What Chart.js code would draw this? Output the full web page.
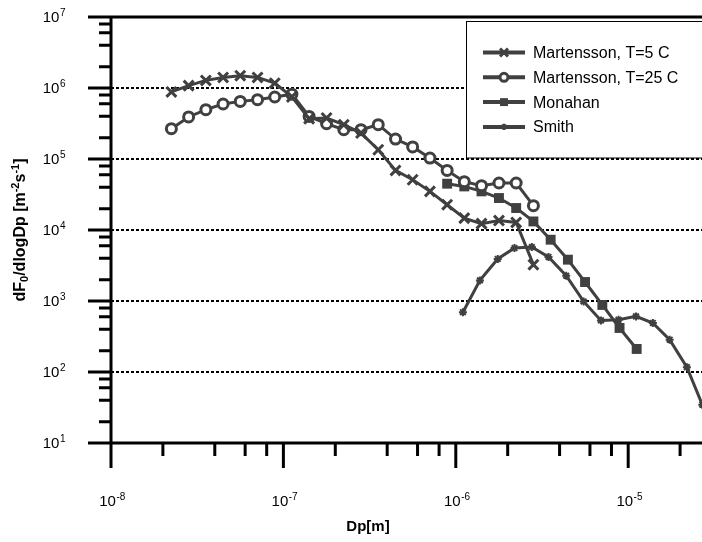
<!DOCTYPE html>
<html>
<head>
<meta charset="utf-8">
<script src="https://cdn.jsdelivr.net/npm/chart.js@4.4.0/dist/chart.umd.min.js"></script>
<style>
    html, body { margin: 0; padding: 0; background: #fff; }
</style>
</head>
<body>
<canvas id="grafico" width="702" height="542"></canvas>
<script>
// Dp [m] for both Martensson series
const dpMartensson = [2.24e-8, 2.82e-8, 3.55e-8, 4.47e-8, 5.62e-8, 7.08e-8, 8.91e-8, 1.12e-7, 1.41e-7, 1.78e-7, 2.24e-7,
                      2.82e-7, 3.55e-7, 4.47e-7, 5.62e-7, 7.08e-7, 8.91e-7, 1.12e-6, 1.41e-6, 1.78e-6, 2.24e-6, 2.82e-6];
const fluxT5 = [8.8e5, 1.08e6, 1.28e6, 1.41e6, 1.49e6, 1.41e6, 1.17e6, 7.5e5, 3.7e5, 3.78e5, 3.04e5,
                2.32e5, 1.35e5, 6.9e4, 5.1e4, 3.5e4, 2.27e4, 1.47e4, 1.23e4, 1.36e4, 1.28e4, 3.25e3];
const fluxT25 = [2.67e5, 3.91e5, 4.95e5, 5.95e5, 6.48e5, 6.84e5, 7.47e5, 8.18e5, 3.98e5, 3.14e5, 2.59e5,
                 2.59e5, 3.04e5, 1.91e5, 1.48e5, 1.03e5, 6.9e4, 4.79e4, 4.21e4, 4.59e4, 4.59e4, 2.2e4];
const dpMonahan = [8.91e-7, 1.12e-6, 1.41e-6, 1.78e-6, 2.24e-6, 2.82e-6, 3.55e-6, 4.47e-6, 5.62e-6, 7.08e-6, 8.91e-6, 1.12e-5];
const fluxMonahan = [4.49e4, 4.11e4, 3.5e4, 2.82e4, 2.04e4, 1.32e4, 7.3e3, 3.82e3, 1.85e3, 8.8e2, 4.17e2, 2.11e2];
const dpSmith = [1.10e-6, 1.38e-6, 1.75e-6, 2.19e-6, 2.76e-6, 3.45e-6, 4.37e-6, 5.51e-6, 6.95e-6, 8.79e-6,
                 1.11e-5, 1.39e-5, 1.74e-5, 2.19e-5, 2.69e-5];
const fluxSmith = [6.95e2, 1.95e3, 3.91e3, 5.57e3, 5.76e3, 4.17e3, 2.27e3, 9.86e2, 5.33e2, 5.45e2,
                   6.07e2, 4.9e2, 2.85e2, 1.17e2, 3.46e1];

// ticks: decades get a label, minor ticks at 2,4,6,8
const xExponents = [-8, -7, -6, -5];
const yExponents = [1, 2, 3, 4, 5, 6, 7];
const gridExponents = [2, 3, 4, 5, 6];
const minorSteps = [2, 4, 6, 8];

const LINE = '#404040';
const FONT = '"Liberation Sans", Arial, sans-serif';

function serie(xs, ys) {
    return xs.map((x, i) => ({ x: x, y: ys[i] }));
}

function logTicks(exps, min, max) {
    const out = [];
    exps.forEach(e => {
        const base = Math.pow(10, e);
        out.push({ value: base, major: true });
        minorSteps.forEach(m => {
            if (m * base <= max * 1.0001) out.push({ value: m * base, major: false });
        });
    });
    return out.filter(t => t.value >= min * 0.9999 && t.value <= max * 1.0001);
}

// "10" with a raised exponent
function drawPower(ctx, exp, x, y, align) {
    ctx.font = '15px ' + FONT;
    const wb = ctx.measureText('10').width;
    ctx.font = '10px ' + FONT;
    const sup = String(exp);
    const ws = ctx.measureText(sup).width;
    const left = align === 'right' ? x - wb - ws : x - (wb + ws) / 2;
    ctx.textAlign = 'left';
    ctx.textBaseline = 'alphabetic';
    ctx.font = '15px ' + FONT;
    ctx.fillText('10', left, y);
    ctx.font = '10px ' + FONT;
    ctx.fillText(sup, left + wb + 0.5, y - 6.5);
}

function drawRich(ctx, parts, cx, cy) {
    let total = 0;
    parts.forEach(p => {
        ctx.font = 'bold ' + p.s + 'px ' + FONT;
        p.w = ctx.measureText(p.t).width;
        total += p.w;
    });
    let x = cx - total / 2;
    ctx.textAlign = 'left';
    ctx.textBaseline = 'middle';
    parts.forEach(p => {
        ctx.font = 'bold ' + p.s + 'px ' + FONT;
        ctx.fillText(p.t, x, cy + (p.dy || 0));
        x += p.w;
    });
}

const rejilla = {
    id: 'rejilla',
    beforeDatasetsDraw(chart) {
        const ctx = chart.ctx, area = chart.chartArea, y = chart.scales.y;
        ctx.save();
        ctx.strokeStyle = '#000';
        ctx.lineWidth = 2;
        ctx.setLineDash([3, 2]);
        gridExponents.forEach(e => {
            const py = Math.round(y.getPixelForValue(Math.pow(10, e)));
            ctx.beginPath();
            ctx.moveTo(area.left, py);
            ctx.lineTo(area.right, py);
            ctx.stroke();
        });
        ctx.restore();
    },
    afterDatasetsDraw(chart) {
        const ctx = chart.ctx, area = chart.chartArea;
        const xs = chart.scales.x, ys = chart.scales.y;
        const left = xs.getPixelForValue(xs.min);
        const bottom = ys.getPixelForValue(ys.min);
        const top = ys.getPixelForValue(ys.max);
        ctx.save();
        ctx.strokeStyle = '#000';
        ctx.fillStyle = '#000';
        ctx.lineWidth = 3;
        ctx.lineCap = 'butt';
        ctx.beginPath();
        ctx.moveTo(left, top); ctx.lineTo(left, bottom);
        ctx.moveTo(left, bottom); ctx.lineTo(area.right, bottom);
        ctx.moveTo(left, top); ctx.lineTo(area.right, top);
        // tick marks
        ys.ticks.forEach(t => {
            const py = ys.getPixelForValue(t.value);
            ctx.moveTo(left - (t.major ? 23 : 12), py);
            ctx.lineTo(left, py);
        });
        xs.ticks.forEach(t => {
            const px = xs.getPixelForValue(t.value);
            ctx.moveTo(px, bottom);
            ctx.lineTo(px, bottom + (t.major ? 25 : 13));
        });
        ctx.stroke();

        // tick labels
        ys.ticks.filter(t => t.major).forEach(t => {
            drawPower(ctx, Math.round(Math.log10(t.value)), 65, ys.getPixelForValue(t.value) + 5.4, 'right');
        });
        xs.ticks.filter(t => t.major).forEach(t => {
            drawPower(ctx, Math.round(Math.log10(t.value)), xs.getPixelForValue(t.value) + 1, 506, 'center');
        });

        // axis titles
        drawRich(ctx, [{ t: 'Dp[m]', s: 15 }], 368, 527);
        ctx.save();
        ctx.translate(21, (top + bottom) / 2);
        ctx.rotate(-Math.PI / 2);
        drawRich(ctx, [
            { t: 'dF', s: 16 }, { t: '0', s: 11, dy: 4 }, { t: '/dlogDp [m', s: 16 },
            { t: '-2', s: 11, dy: -5 }, { t: 's', s: 16 }, { t: '-1', s: 11, dy: -5 }, { t: ']', s: 16 }
        ], 0, 0);
        ctx.restore();

        // legend box
        ctx.fillStyle = '#fff';
        ctx.fillRect(466.5, 21.5, 250, 136.5);
        ctx.lineWidth = 1;
        ctx.strokeStyle = '#000';
        ctx.strokeRect(466.5, 21.5, 250, 136.5);
        chart.data.datasets.forEach((ds, i) => {
            const ry = 52.5 + i * 24.8;
            ctx.strokeStyle = LINE;
            ctx.lineWidth = 4;
            ctx.beginPath();
            ctx.moveTo(483, ry);
            ctx.lineTo(525, ry);
            ctx.stroke();
            ctx.fillStyle = ds.pointBackgroundColor;
            ctx.strokeStyle = LINE;
            ctx.lineWidth = ds.pointBorderWidth;
            Chart.helpers.drawPoint(ctx, {
                pointStyle: ds.pointStyle, rotation: 0,
                radius: ds.pointRadius * 0.8, borderWidth: ds.pointBorderWidth
            }, 504, ry);
            ctx.fillStyle = '#000';
            ctx.font = '16px ' + FONT;
            ctx.textAlign = 'left';
            ctx.textBaseline = 'middle';
            ctx.fillText(ds.label, 533, ry + 1);
        });
        ctx.restore();
    }
};

function estilo(label, xs, ys, marker, radius, fill, bw) {
    return {
        label: label,
        data: serie(xs, ys),
        borderColor: LINE,
        borderWidth: 3,
        pointStyle: marker,
        pointRadius: radius,
        pointBorderColor: LINE,
        pointBackgroundColor: fill,
        pointBorderWidth: bw,
        tension: 0,
        fill: false
    };
}

new Chart(document.getElementById('grafico').getContext('2d'), {
    type: 'line',
    data: {
        datasets: [
            estilo('Martensson, T=5 C', dpMartensson, fluxT5, 'crossRot', 7, LINE, 3),
            estilo('Martensson, T=25 C', dpMartensson, fluxT25, 'circle', 5, '#fff', 3),
            estilo('Monahan', dpMonahan, fluxMonahan, 'rect', 7, LINE, 0),
            estilo('Smith', dpSmith, fluxSmith, 'star', 4, LINE, 2)
        ]
    },
    plugins: [rejilla],
    options: {
        responsive: false,
        animation: false,
        events: [],
        layout: { autoPadding: false, padding: { top: 17, left: 0, right: 0, bottom: 0 } },
        plugins: {
            legend: { display: false },
            tooltip: { enabled: false }
        },
        scales: {
            x: {
                type: 'logarithmic',
                min: 1e-8,
                max: 2.68e-5,
                grid: { display: false },
                border: { display: false },
                ticks: { display: false },
                afterFit: s => { s.height = 99; },
                afterBuildTicks: s => { s.ticks = logTicks(xExponents, 1e-8, 2.68e-5); }
            },
            y: {
                type: 'logarithmic',
                min: 10,
                max: 1e7,
                grid: { display: false },
                border: { display: false },
                ticks: { display: false },
                afterFit: s => { s.width = 111; },
                afterBuildTicks: s => { s.ticks = logTicks(yExponents, 10, 1e7); }
            }
        }
    }
});
</script>
</body>
</html>
